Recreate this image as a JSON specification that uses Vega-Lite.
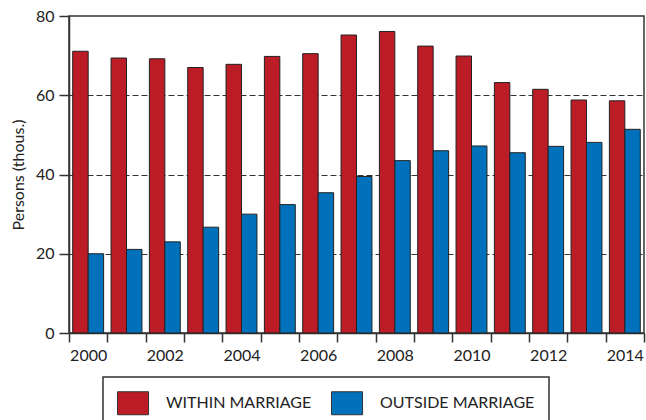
{
  "$schema": "https://vega.github.io/schema/vega-lite/v6.json",
  "width": 575,
  "height": 317,
  "autosize": {"type": "none"},
  "padding": {"left": 69, "top": 16, "right": 2, "bottom": 87},
  "background": "white",
  "config": {
    "font": "Lato",
    "view": {"stroke": "#333", "strokeWidth": 1.5},
    "axis": {"labelColor": "#222", "titleColor": "#222", "domainColor": "#333", "tickColor": "#333"}
  },
  "data": {
    "values": [
      {"year": "2000", "series": "WITHIN MARRIAGE", "value": 71.1},
      {"year": "2001", "series": "WITHIN MARRIAGE", "value": 69.4},
      {"year": "2002", "series": "WITHIN MARRIAGE", "value": 69.2},
      {"year": "2003", "series": "WITHIN MARRIAGE", "value": 67.0},
      {"year": "2004", "series": "WITHIN MARRIAGE", "value": 67.8},
      {"year": "2005", "series": "WITHIN MARRIAGE", "value": 69.8},
      {"year": "2006", "series": "WITHIN MARRIAGE", "value": 70.5},
      {"year": "2007", "series": "WITHIN MARRIAGE", "value": 75.2},
      {"year": "2008", "series": "WITHIN MARRIAGE", "value": 76.1},
      {"year": "2009", "series": "WITHIN MARRIAGE", "value": 72.4},
      {"year": "2010", "series": "WITHIN MARRIAGE", "value": 69.9},
      {"year": "2011", "series": "WITHIN MARRIAGE", "value": 63.2},
      {"year": "2012", "series": "WITHIN MARRIAGE", "value": 61.5},
      {"year": "2013", "series": "WITHIN MARRIAGE", "value": 58.8},
      {"year": "2014", "series": "WITHIN MARRIAGE", "value": 58.6},
      {"year": "2000", "series": "OUTSIDE MARRIAGE", "value": 20.0},
      {"year": "2001", "series": "OUTSIDE MARRIAGE", "value": 21.1},
      {"year": "2002", "series": "OUTSIDE MARRIAGE", "value": 23.0},
      {"year": "2003", "series": "OUTSIDE MARRIAGE", "value": 26.7},
      {"year": "2004", "series": "OUTSIDE MARRIAGE", "value": 30.0},
      {"year": "2005", "series": "OUTSIDE MARRIAGE", "value": 32.4},
      {"year": "2006", "series": "OUTSIDE MARRIAGE", "value": 35.4},
      {"year": "2007", "series": "OUTSIDE MARRIAGE", "value": 39.5},
      {"year": "2008", "series": "OUTSIDE MARRIAGE", "value": 43.5},
      {"year": "2009", "series": "OUTSIDE MARRIAGE", "value": 46.0},
      {"year": "2010", "series": "OUTSIDE MARRIAGE", "value": 47.2},
      {"year": "2011", "series": "OUTSIDE MARRIAGE", "value": 45.5},
      {"year": "2012", "series": "OUTSIDE MARRIAGE", "value": 47.1},
      {"year": "2013", "series": "OUTSIDE MARRIAGE", "value": 48.1},
      {"year": "2014", "series": "OUTSIDE MARRIAGE", "value": 51.4}
    ]
  },
  "mark": {"type": "bar", "stroke": "#222", "strokeWidth": 1},
  "encoding": {
    "x": {
      "field": "year",
      "type": "nominal",
      "sort": null,
      "scale": {"paddingInner": 0, "paddingOuter": 0},
      "axis": {
        "title": null,
        "labelAngle": 0,
        "labelFontSize": 16,
        "labelPadding": 5,
        "tickBand": "extent",
        "tickSize": 9,
        "tickWidth": 1.5,
        "domainWidth": 1.5,
        "labelExpr": "toNumber(datum.value) % 2 == 0 ? datum.label : ''"
      }
    },
    "xOffset": {
      "field": "series",
      "type": "nominal",
      "sort": ["WITHIN MARRIAGE", "OUTSIDE MARRIAGE"],
      "scale": {"paddingInner": 0, "paddingOuter": 0.24}
    },
    "y": {
      "field": "value",
      "type": "quantitative",
      "scale": {"domain": [0, 80], "nice": false},
      "axis": {
        "title": "Persons (thous.)",
        "titleFontSize": 16,
        "titleFontWeight": "normal",
        "titlePadding": 9,
        "values": [0, 20, 40, 60, 80],
        "labelFontSize": 16,
        "labelPadding": 5,
        "tickSize": 10,
        "tickWidth": 1.5,
        "domainWidth": 1.5,
        "grid": true,
        "gridColor": "#333",
        "gridWidth": 1,
        "gridDash": [6, 3],
        "gridOpacity": {"condition": {"test": "datum.value == 0 || datum.value == 80", "value": 0}, "value": 1}
      }
    },
    "color": {
      "field": "series",
      "type": "nominal",
      "sort": ["WITHIN MARRIAGE", "OUTSIDE MARRIAGE"],
      "scale": {"range": ["#BC1C25", "#0071BA"]},
      "legend": {
        "title": null,
        "orient": "none",
        "legendX": 34,
        "legendY": 361,
        "direction": "horizontal",
        "symbolType": "M-1,-1H1.7V1H-1Z",
        "symbolSize": 529,
        "symbolStrokeColor": "#333",
        "symbolStrokeWidth": 1,
        "symbolOpacity": 1,
        "labelFontSize": 16,
        "labelColor": "#222",
        "labelOffset": 25,
        "columnPadding": 17,
        "padding": 14,
        "strokeColor": "#333",
        "fillColor": "white",
        "encode": {"legend": {"update": {"strokeWidth": {"value": 1.5}}}}
      }
    }
  }
}
